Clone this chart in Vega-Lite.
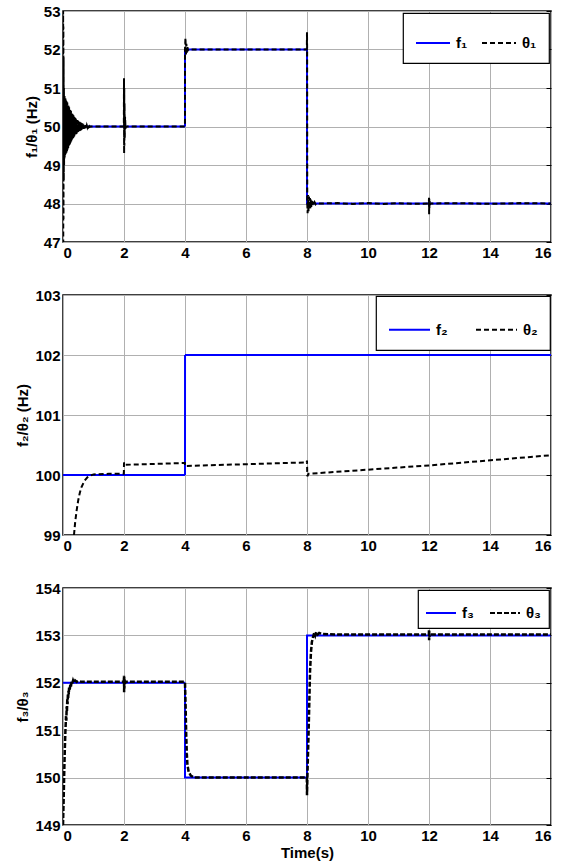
{
  "$schema": "https://vega.github.io/schema/vega-lite/v6.json",
  "padding": {"left": 15, "top": 3, "right": 6, "bottom": 0},
  "spacing": 26,
  "background": "white",
  "resolve": {"scale": {"color": "independent", "strokeDash": "independent"}, "legend": {"color": "independent", "strokeDash": "independent"}},
  "config": {
    "font": "Liberation Sans",
    "view": {"stroke": "black", "strokeWidth": 1.5},
    "axis": {
      "labelFont": "Liberation Sans", "labelFontSize": 15, "labelFontWeight": "bold", "labelColor": "black",
      "titleFont": "Liberation Sans", "titleFontSize": 15, "titleFontWeight": "bold", "titleColor": "black",
      "gridColor": "#b0b0b0", "gridOpacity": 1, "gridWidth": 1, "domain": false, "ticks": false,
      "labelPadding": 3
    },
    "legend": {
      "orient": "top-right", "direction": "horizontal", "title": null, "symbolType": "stroke",
      "symbolStrokeWidth": 2, "labelFont": "Liberation Sans", "labelFontSize": 15, "labelFontWeight": "bold",
      "labelColor": "black", "fillColor": "white", "strokeColor": "black", "strokeWidth": 1.2, "labelOffset": 5
    }
  },
  "datasets": {
    "p1": [
      {"t": 0, "v": 50, "s": "f₁"}, {"t": 4, "v": 50, "s": "f₁"}, {"t": 4.001, "v": 52, "s": "f₁"}, {"t": 8, "v": 52, "s": "f₁"}, {"t": 8.001, "v": 48, "s": "f₁"}, {"t": 16, "v": 48, "s": "f₁"},
      {"t": 0, "v": 50, "s": "θ₁"}, {"t": 0.004, "v": 53, "s": "θ₁"}, {"t": 0.008, "v": 47, "s": "θ₁"}, {"t": 0.012, "v": 52.6, "s": "θ₁"}, {"t": 0.016, "v": 47.6, "s": "θ₁"}, {"t": 0.02, "v": 51.8, "s": "θ₁"}, {"t": 0.025, "v": 48.6, "s": "θ₁"}, {"t": 0.03, "v": 51.0, "s": "θ₁"}, {"t": 0.035, "v": 49.0, "s": "θ₁"}, {"t": 0.04, "v": 50.8, "s": "θ₁"}, {"t": 0.045, "v": 49.15, "s": "θ₁"}, {"t": 0.05, "v": 50.8, "s": "θ₁"},
      {"t": 0.055, "v": 49.2, "s": "θ₁"}, {"t": 0.06, "v": 50.76, "s": "θ₁"}, {"t": 0.07, "v": 49.26, "s": "θ₁"}, {"t": 0.08, "v": 50.73, "s": "θ₁"}, {"t": 0.09, "v": 49.29, "s": "θ₁"}, {"t": 0.1, "v": 50.7, "s": "θ₁"}, {"t": 0.11, "v": 49.32, "s": "θ₁"}, {"t": 0.12, "v": 50.66, "s": "θ₁"}, {"t": 0.13, "v": 49.36, "s": "θ₁"}, {"t": 0.14, "v": 50.62, "s": "θ₁"}, {"t": 0.15, "v": 49.4, "s": "θ₁"}, {"t": 0.16, "v": 50.58, "s": "θ₁"}, {"t": 0.17, "v": 49.44, "s": "θ₁"}, {"t": 0.18, "v": 50.54, "s": "θ₁"}, {"t": 0.19, "v": 49.48, "s": "θ₁"}, {"t": 0.2, "v": 50.5, "s": "θ₁"}, {"t": 0.21, "v": 49.52, "s": "θ₁"}, {"t": 0.22, "v": 50.46, "s": "θ₁"}, {"t": 0.23, "v": 49.555, "s": "θ₁"}, {"t": 0.24, "v": 50.43, "s": "θ₁"}, {"t": 0.25, "v": 49.585, "s": "θ₁"}, {"t": 0.26, "v": 50.4, "s": "θ₁"}, {"t": 0.27, "v": 49.62, "s": "θ₁"}, {"t": 0.28, "v": 50.36, "s": "θ₁"}, {"t": 0.29, "v": 49.655, "s": "θ₁"}, {"t": 0.3, "v": 50.33, "s": "θ₁"}, {"t": 0.31, "v": 49.68, "s": "θ₁"}, {"t": 0.32, "v": 50.31, "s": "θ₁"}, {"t": 0.33, "v": 49.7, "s": "θ₁"}, {"t": 0.34, "v": 50.29, "s": "θ₁"}, {"t": 0.35, "v": 49.72, "s": "θ₁"}, {"t": 0.36, "v": 50.27, "s": "θ₁"}, {"t": 0.37, "v": 49.745, "s": "θ₁"}, {"t": 0.38, "v": 50.24, "s": "θ₁"}, {"t": 0.39, "v": 49.77, "s": "θ₁"}, {"t": 0.4, "v": 50.22, "s": "θ₁"}, {"t": 0.41, "v": 49.79, "s": "θ₁"}, {"t": 0.42, "v": 50.2, "s": "θ₁"}, {"t": 0.43, "v": 49.805, "s": "θ₁"}, {"t": 0.44, "v": 50.19, "s": "θ₁"}, {"t": 0.45, "v": 49.82, "s": "θ₁"}, {"t": 0.46, "v": 50.17, "s": "θ₁"}, {"t": 0.47, "v": 49.835, "s": "θ₁"}, {"t": 0.48, "v": 50.16, "s": "θ₁"}, {"t": 0.49, "v": 49.85, "s": "θ₁"}, {"t": 0.5, "v": 50.14, "s": "θ₁"}, {"t": 0.51, "v": 49.865, "s": "θ₁"}, {"t": 0.52, "v": 50.13, "s": "θ₁"}, {"t": 0.53, "v": 49.875, "s": "θ₁"}, {"t": 0.54, "v": 50.12, "s": "θ₁"}, {"t": 0.55, "v": 49.885, "s": "θ₁"}, {"t": 0.56, "v": 50.11, "s": "θ₁"}, {"t": 0.57, "v": 49.895, "s": "θ₁"}, {"t": 0.58, "v": 50.1, "s": "θ₁"}, {"t": 0.59, "v": 49.905, "s": "θ₁"}, {"t": 0.6, "v": 50.09, "s": "θ₁"}, {"t": 0.61, "v": 49.915, "s": "θ₁"}, {"t": 0.62, "v": 50.08, "s": "θ₁"}, {"t": 0.64, "v": 49.925, "s": "θ₁"}, {"t": 0.66, "v": 50.07, "s": "θ₁"}, {"t": 0.68, "v": 49.94, "s": "θ₁"}, {"t": 0.7, "v": 50.055, "s": "θ₁"}, {"t": 0.72, "v": 49.955, "s": "θ₁"}, {"t": 0.74, "v": 50.04, "s": "θ₁"}, {"t": 0.76, "v": 49.965, "s": "θ₁"}, {"t": 0.78, "v": 50.03, "s": "θ₁"}, {"t": 0.8, "v": 49.975, "s": "θ₁"}, {"t": 0.82, "v": 50.02, "s": "θ₁"}, {"t": 0.84, "v": 49.985, "s": "θ₁"}, {"t": 0.86, "v": 50.01, "s": "θ₁"}, {"t": 0.88, "v": 49.99, "s": "θ₁"}, {"t": 0.9, "v": 50, "s": "θ₁"},
      {"t": 1.5, "v": 50, "s": "θ₁"}, {"t": 1.995, "v": 50, "s": "θ₁"}, {"t": 2.0, "v": 51.25, "s": "θ₁"}, {"t": 2.004, "v": 49.3, "s": "θ₁"}, {"t": 2.008, "v": 51.0, "s": "θ₁"}, {"t": 2.012, "v": 49.5, "s": "θ₁"}, {"t": 2.018, "v": 50.6, "s": "θ₁"}, {"t": 2.025, "v": 49.7, "s": "θ₁"}, {"t": 2.035, "v": 50.25, "s": "θ₁"}, {"t": 2.05, "v": 49.95, "s": "θ₁"}, {"t": 2.07, "v": 50, "s": "θ₁"},
      {"t": 3.999, "v": 50, "s": "θ₁"}, {"t": 4.0, "v": 52, "s": "θ₁"}, {"t": 4.015, "v": 52.3, "s": "θ₁"}, {"t": 4.03, "v": 51.85, "s": "θ₁"}, {"t": 4.045, "v": 52.15, "s": "θ₁"}, {"t": 4.06, "v": 51.92, "s": "θ₁"}, {"t": 4.08, "v": 52.06, "s": "θ₁"}, {"t": 4.1, "v": 51.98, "s": "θ₁"}, {"t": 4.13, "v": 52, "s": "θ₁"},
      {"t": 7.995, "v": 52, "s": "θ₁"}, {"t": 8.0, "v": 52.45, "s": "θ₁"}, {"t": 8.004, "v": 52.0, "s": "θ₁"}, {"t": 8.008, "v": 48.0, "s": "θ₁"}, {"t": 8.02, "v": 47.75, "s": "θ₁"}, {"t": 8.035, "v": 48.22, "s": "θ₁"}, {"t": 8.05, "v": 47.8, "s": "θ₁"}, {"t": 8.065, "v": 48.18, "s": "θ₁"}, {"t": 8.08, "v": 47.85, "s": "θ₁"}, {"t": 8.095, "v": 48.14, "s": "θ₁"}, {"t": 8.11, "v": 47.88, "s": "θ₁"}, {"t": 8.125, "v": 48.1, "s": "θ₁"}, {"t": 8.14, "v": 47.91, "s": "θ₁"}, {"t": 8.16, "v": 48.07, "s": "θ₁"}, {"t": 8.18, "v": 47.94, "s": "θ₁"}, {"t": 8.2, "v": 48.05, "s": "θ₁"}, {"t": 8.22, "v": 47.96, "s": "θ₁"}, {"t": 8.25, "v": 48.03, "s": "θ₁"}, {"t": 8.28, "v": 47.98, "s": "θ₁"}, {"t": 8.32, "v": 48.01, "s": "θ₁"}, {"t": 8.4, "v": 48, "s": "θ₁"},
      {"t": 9, "v": 48.01, "s": "θ₁"}, {"t": 9.5, "v": 47.99, "s": "θ₁"}, {"t": 10, "v": 48.01, "s": "θ₁"}, {"t": 10.5, "v": 47.99, "s": "θ₁"}, {"t": 11, "v": 48.01, "s": "θ₁"}, {"t": 11.5, "v": 47.99, "s": "θ₁"}, {"t": 11.995, "v": 48, "s": "θ₁"}, {"t": 12.0, "v": 48.15, "s": "θ₁"}, {"t": 12.004, "v": 47.72, "s": "θ₁"}, {"t": 12.008, "v": 48.12, "s": "θ₁"}, {"t": 12.014, "v": 47.88, "s": "θ₁"}, {"t": 12.02, "v": 48.06, "s": "θ₁"}, {"t": 12.03, "v": 47.96, "s": "θ₁"}, {"t": 12.045, "v": 48.01, "s": "θ₁"}, {"t": 12.06, "v": 48, "s": "θ₁"}, {"t": 13, "v": 48.01, "s": "θ₁"}, {"t": 14, "v": 47.99, "s": "θ₁"}, {"t": 15, "v": 48.01, "s": "θ₁"}, {"t": 16, "v": 48, "s": "θ₁"}
    ],
    "p2": [
      {"t": 0, "v": 100, "s": "f₂"}, {"t": 4, "v": 100, "s": "f₂"}, {"t": 4.001, "v": 102, "s": "f₂"}, {"t": 16, "v": 102, "s": "f₂"},
      {"t": 0.36, "v": 99.0, "s": "θ₂"}, {"t": 0.4, "v": 99.22, "s": "θ₂"}, {"t": 0.45, "v": 99.42, "s": "θ₂"}, {"t": 0.5, "v": 99.58, "s": "θ₂"}, {"t": 0.55, "v": 99.7, "s": "θ₂"}, {"t": 0.6, "v": 99.79, "s": "θ₂"}, {"t": 0.7, "v": 99.9, "s": "θ₂"}, {"t": 0.8, "v": 99.96, "s": "θ₂"}, {"t": 0.9, "v": 99.99, "s": "θ₂"}, {"t": 1.0, "v": 100.01, "s": "θ₂"}, {"t": 1.5, "v": 100.02, "s": "θ₂"}, {"t": 1.995, "v": 100.02, "s": "θ₂"}, {"t": 2.0, "v": 100.21, "s": "θ₂"}, {"t": 2.03, "v": 100.17, "s": "θ₂"}, {"t": 3.995, "v": 100.2, "s": "θ₂"}, {"t": 4.0, "v": 100.15, "s": "θ₂"}, {"t": 6, "v": 100.18, "s": "θ₂"}, {"t": 7.99, "v": 100.21, "s": "θ₂"}, {"t": 8.0, "v": 100.24, "s": "θ₂"}, {"t": 8.01, "v": 99.98, "s": "θ₂"}, {"t": 8.05, "v": 100.02, "s": "θ₂"}, {"t": 12, "v": 100.16, "s": "θ₂"}, {"t": 16, "v": 100.33, "s": "θ₂"}
    ],
    "p3": [
      {"t": 0, "v": 152, "s": "f₃"}, {"t": 4, "v": 152, "s": "f₃"}, {"t": 4.001, "v": 150, "s": "f₃"}, {"t": 8, "v": 150, "s": "f₃"}, {"t": 8.001, "v": 153, "s": "f₃"}, {"t": 16, "v": 153, "s": "f₃"},
      {"t": 0, "v": 149, "s": "θ₃"}, {"t": 0.02, "v": 149.5, "s": "θ₃"}, {"t": 0.04, "v": 150.1, "s": "θ₃"}, {"t": 0.06, "v": 150.6, "s": "θ₃"}, {"t": 0.08, "v": 151.0, "s": "θ₃"}, {"t": 0.1, "v": 151.3, "s": "θ₃"}, {"t": 0.11, "v": 151.2, "s": "θ₃"}, {"t": 0.12, "v": 151.5, "s": "θ₃"}, {"t": 0.13, "v": 151.4, "s": "θ₃"}, {"t": 0.14, "v": 151.65, "s": "θ₃"}, {"t": 0.15, "v": 151.55, "s": "θ₃"}, {"t": 0.16, "v": 151.75, "s": "θ₃"}, {"t": 0.17, "v": 151.68, "s": "θ₃"}, {"t": 0.18, "v": 151.83, "s": "θ₃"}, {"t": 0.19, "v": 151.76, "s": "θ₃"}, {"t": 0.2, "v": 151.9, "s": "θ₃"}, {"t": 0.22, "v": 151.85, "s": "θ₃"}, {"t": 0.24, "v": 151.96, "s": "θ₃"}, {"t": 0.26, "v": 151.92, "s": "θ₃"}, {"t": 0.28, "v": 152.02, "s": "θ₃"}, {"t": 0.3, "v": 151.98, "s": "θ₃"}, {"t": 0.33, "v": 152.05, "s": "θ₃"}, {"t": 0.36, "v": 152.0, "s": "θ₃"}, {"t": 0.4, "v": 152.05, "s": "θ₃"}, {"t": 0.45, "v": 152.02, "s": "θ₃"}, {"t": 0.5, "v": 152.04, "s": "θ₃"}, {"t": 0.6, "v": 152.02, "s": "θ₃"}, {"t": 1, "v": 152.02, "s": "θ₃"},
      {"t": 1.995, "v": 152.02, "s": "θ₃"}, {"t": 2.0, "v": 152.15, "s": "θ₃"}, {"t": 2.004, "v": 151.8, "s": "θ₃"}, {"t": 2.008, "v": 152.12, "s": "θ₃"}, {"t": 2.013, "v": 151.88, "s": "θ₃"}, {"t": 2.02, "v": 152.06, "s": "θ₃"}, {"t": 2.03, "v": 151.98, "s": "θ₃"}, {"t": 2.05, "v": 152.02, "s": "θ₃"},
      {"t": 3.995, "v": 152.02, "s": "θ₃"}, {"t": 4.0, "v": 152.0, "s": "θ₃"}, {"t": 4.02, "v": 151.5, "s": "θ₃"}, {"t": 4.04, "v": 150.9, "s": "θ₃"}, {"t": 4.06, "v": 150.5, "s": "θ₃"}, {"t": 4.08, "v": 150.27, "s": "θ₃"}, {"t": 4.12, "v": 150.12, "s": "θ₃"}, {"t": 4.19, "v": 150.04, "s": "θ₃"}, {"t": 4.3, "v": 150.0, "s": "θ₃"},
      {"t": 7.995, "v": 150.0, "s": "θ₃"}, {"t": 8.0, "v": 149.63, "s": "θ₃"}, {"t": 8.02, "v": 150.2, "s": "θ₃"}, {"t": 8.05, "v": 150.9, "s": "θ₃"}, {"t": 8.08, "v": 151.7, "s": "θ₃"}, {"t": 8.1, "v": 152.25, "s": "θ₃"}, {"t": 8.13, "v": 152.65, "s": "θ₃"}, {"t": 8.16, "v": 152.86, "s": "θ₃"}, {"t": 8.2, "v": 152.97, "s": "θ₃"}, {"t": 8.24, "v": 153.06, "s": "θ₃"}, {"t": 8.27, "v": 153.0, "s": "θ₃"}, {"t": 8.3, "v": 153.07, "s": "θ₃"}, {"t": 8.35, "v": 153.02, "s": "θ₃"}, {"t": 8.4, "v": 153.05, "s": "θ₃"}, {"t": 8.5, "v": 153.03, "s": "θ₃"}, {"t": 9, "v": 153.02, "s": "θ₃"},
      {"t": 11.995, "v": 153.02, "s": "θ₃"}, {"t": 12.0, "v": 153.13, "s": "θ₃"}, {"t": 12.004, "v": 152.9, "s": "θ₃"}, {"t": 12.008, "v": 153.09, "s": "θ₃"}, {"t": 12.015, "v": 152.97, "s": "θ₃"}, {"t": 12.03, "v": 153.02, "s": "θ₃"}, {"t": 16, "v": 153.02, "s": "θ₃"}
    ]
  },
  "vconcat": [
    {
      "width": 488, "height": 231,
      "data": {"name": "p1"},
      "encoding": {
        "x": {"field": "t", "type": "quantitative", "title": null, "scale": {"domain": [0, 16], "nice": false}, "axis": {"values": [0, 2, 4, 6, 8, 10, 12, 14, 16]}},
        "color": {"field": "s", "type": "nominal", "scale": {"domain": ["f₁", "θ₁"], "range": ["#0000ff", "#000000"]}, "legend": {"symbolSize": 1156, "padding": 12, "offset": 2, "columnPadding": 10}},
        "strokeDash": {"field": "s", "type": "nominal", "scale": {"domain": ["f₁", "θ₁"], "range": [[1, 0], [5, 3]]}, "legend": {"symbolSize": 1156, "padding": 12, "offset": 2, "columnPadding": 10}}
      },
      "layer": [
        {"transform": [{"filter": "datum.s == 'f₁'"}], "mark": {"type": "line", "strokeWidth": 2, "clip": true},
         "encoding": {"y": {"field": "v", "type": "quantitative", "scale": {"domain": [47, 53], "nice": false, "zero": false}, "axis": {"orient": "left", "values": [47, 48, 49, 50, 51, 52, 53], "title": "f₁/θ₁ (Hz)", "titlePadding": 4}}}},
        {"transform": [{"filter": "datum.s == 'θ₁'"}], "mark": {"type": "line", "strokeWidth": 2, "clip": true},
         "encoding": {"y": {"field": "v", "type": "quantitative", "axis": {"orient": "right", "values": [47, 48, 49, 50, 51, 52, 53], "labels": false, "grid": false, "ticks": true, "tickSize": -5, "tickColor": "black", "title": null}}}}
      ],
      "resolve": {"axis": {"y": "independent"}}
    },
    {
      "width": 488, "height": 240,
      "data": {"name": "p2"},
      "encoding": {
        "x": {"field": "t", "type": "quantitative", "title": null, "scale": {"domain": [0, 16], "nice": false}, "axis": {"values": [0, 2, 4, 6, 8, 10, 12, 14, 16]}},
        "color": {"field": "s", "type": "nominal", "scale": {"domain": ["f₂", "θ₂"], "range": ["#0000ff", "#000000"]}, "legend": {"symbolSize": 1681, "padding": 12, "offset": 1, "columnPadding": 24}},
        "strokeDash": {"field": "s", "type": "nominal", "scale": {"domain": ["f₂", "θ₂"], "range": [[1, 0], [5, 3]]}, "legend": {"symbolSize": 1681, "padding": 12, "offset": 1, "columnPadding": 24}}
      },
      "layer": [
        {"transform": [{"filter": "datum.s == 'f₂'"}], "mark": {"type": "line", "strokeWidth": 2, "clip": true},
         "encoding": {"y": {"field": "v", "type": "quantitative", "scale": {"domain": [99, 103], "nice": false, "zero": false}, "axis": {"orient": "left", "values": [99, 100, 101, 102, 103], "title": "f₂/θ₂ (Hz)", "titlePadding": 4}}}},
        {"transform": [{"filter": "datum.s == 'θ₂'"}], "mark": {"type": "line", "strokeWidth": 2, "clip": true},
         "encoding": {"y": {"field": "v", "type": "quantitative", "axis": {"orient": "right", "values": [99, 100, 101, 102, 103], "labels": false, "grid": false, "ticks": true, "tickSize": -5, "tickColor": "black", "title": null}}}}
      ],
      "resolve": {"axis": {"y": "independent"}}
    },
    {
      "width": 488, "height": 237,
      "data": {"name": "p3"},
      "encoding": {
        "x": {"field": "t", "type": "quantitative", "title": "Time(s)", "scale": {"domain": [0, 16], "nice": false}, "axis": {"values": [0, 2, 4, 6, 8, 10, 12, 14, 16], "titlePadding": 2}},
        "color": {"field": "s", "type": "nominal", "scale": {"domain": ["f₃", "θ₃"], "range": ["#0000ff", "#000000"]}, "legend": {"symbolSize": 900, "padding": 7, "offset": 2, "columnPadding": 12}},
        "strokeDash": {"field": "s", "type": "nominal", "scale": {"domain": ["f₃", "θ₃"], "range": [[1, 0], [5, 2]]}, "legend": {"symbolSize": 900, "padding": 7, "offset": 2, "columnPadding": 12}}
      },
      "layer": [
        {"transform": [{"filter": "datum.s == 'f₃'"}], "mark": {"type": "line", "strokeWidth": 2, "clip": true},
         "encoding": {"y": {"field": "v", "type": "quantitative", "scale": {"domain": [149, 154], "nice": false, "zero": false}, "axis": {"orient": "left", "values": [149, 150, 151, 152, 153, 154], "title": "f₃/θ₃", "titlePadding": 4}}}},
        {"transform": [{"filter": "datum.s == 'θ₃'"}], "mark": {"type": "line", "strokeWidth": 2.5, "clip": true},
         "encoding": {"y": {"field": "v", "type": "quantitative", "axis": {"orient": "right", "values": [149, 150, 151, 152, 153, 154], "labels": false, "grid": false, "ticks": true, "tickSize": -5, "tickColor": "black", "title": null}}}}
      ],
      "resolve": {"axis": {"y": "independent"}}
    }
  ]
}
